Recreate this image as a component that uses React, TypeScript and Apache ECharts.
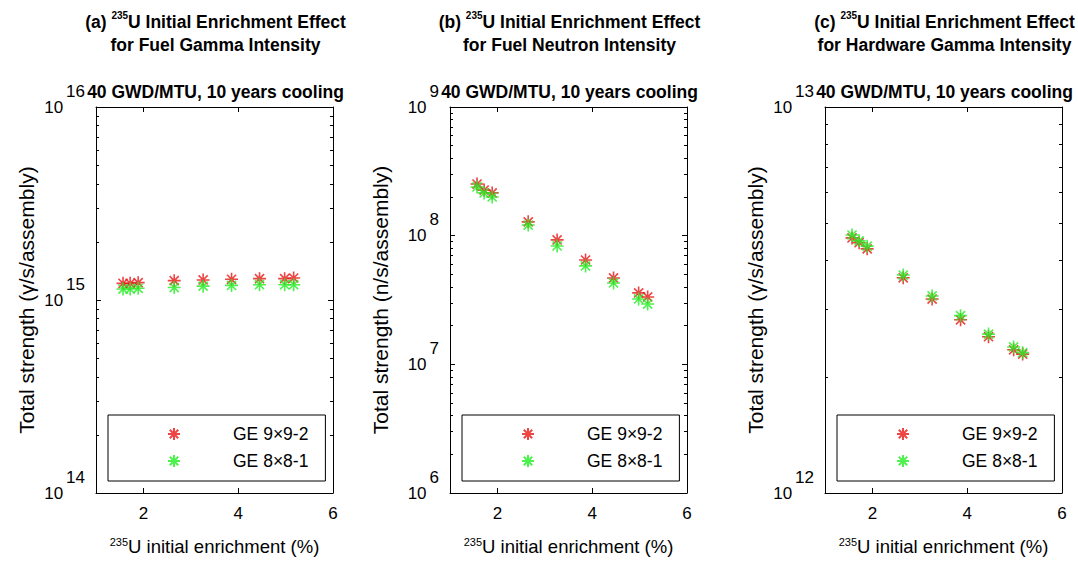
import React, { useEffect, useRef } from "react";
import * as echarts from "echarts";

// 235U initial enrichment (%) of the assemblies
const ENRICHMENT = [1.57, 1.72, 1.89, 2.65, 3.26, 3.86, 4.45, 4.98, 5.17];

// (a) fuel gamma intensity, photons/s/assembly
const FUEL_GAMMA_9X9 = [1.22e15, 1.22e15, 1.23e15, 1.26e15, 1.27e15, 1.28e15, 1.29e15, 1.29e15, 1.3e15];
const FUEL_GAMMA_8X8 = [1.14e15, 1.14e15, 1.15e15, 1.16e15, 1.18e15, 1.19e15, 1.2e15, 1.2e15, 1.2e15];

// (b) fuel neutron intensity, n/s/assembly
const FUEL_NEUTRON_9X9 = [2.52e8, 2.26e8, 2.15e8, 1.28e8, 9.27e7, 6.47e7, 4.69e7, 3.59e7, 3.34e7];
const FUEL_NEUTRON_8X8 = [2.39e8, 2.15e8, 2.0e8, 1.21e8, 8.32e7, 5.82e7, 4.29e7, 3.22e7, 2.94e7];

// (c) hardware gamma intensity, photons/s/assembly
const HARDWARE_GAMMA_9X9 = [4.58e12, 4.45e12, 4.29e12, 3.61e12, 3.18e12, 2.81e12, 2.54e12, 2.35e12, 2.29e12];
const HARDWARE_GAMMA_8X8 = [4.66e12, 4.5e12, 4.36e12, 3.67e12, 3.24e12, 2.88e12, 2.58e12, 2.39e12, 2.31e12];

const X_TICKS = [2, 4, 6];
const SERIES_NAMES = ["GE 9×9-2", "GE 8×8-1"];
const PANEL_LETTERS = ["(a)", "(b)", "(c)"];
const PANEL_SUBJECTS = [
  "for Fuel Gamma Intensity",
  "for Fuel Neutron Intensity",
  "for Hardware Gamma Intensity",
];
const SUBTITLE = "40 GWD/MTU, 10 years cooling";
const Y_NAMES = [
  "Total strength (γ/s/assembly)",
  "Total strength (n/s/assembly)",
  "Total strength (γ/s/assembly)",
];
// decade exponents spanned by each log axis
const Y_DECADES = [
  [14, 16],
  [6, 9],
  [12, 13],
];

const FONT = "'Liberation Sans', Arial, Helvetica, sans-serif";
const RED = "#e81515";
const GREEN = "#22ee22";
const ASTERISK = "path://M5 0L5 10M0 5L10 5M1.5 1.5L8.5 8.5M1.5 8.5L8.5 1.5";

const PANEL_LEFT = [96, 450, 825];
const PANEL_TOP = 107;
const PANEL_W = 237;
const PANEL_H = 386;

function minorLogTicks(lo: number, hi: number): number[] {
  const out: number[] = [];
  for (let d = lo; d < hi; d++) {
    for (let k = 2; k <= 9; k++) out.push(d + Math.log10(k));
  }
  return out;
}

function buildOption() {
  const panels = [
    [FUEL_GAMMA_9X9, FUEL_GAMMA_8X8],
    [FUEL_NEUTRON_9X9, FUEL_NEUTRON_8X8],
    [HARDWARE_GAMMA_9X9, HARDWARE_GAMMA_8X8],
  ];

  const grid: any[] = [];
  const xAxis: any[] = [];
  const yAxis: any[] = [];
  const series: any[] = [];
  const title: any[] = [];
  const legend: any[] = [];

  const axisLine = { show: true, onZero: false, lineStyle: { color: "#000", width: 1 } };

  panels.forEach((pair, i) => {
    const left = PANEL_LEFT[i];
    const cx = left + PANEL_W / 2;
    const [lo, hi] = Y_DECADES[i];

    grid.push({ left, top: PANEL_TOP, width: PANEL_W, height: PANEL_H, containLabel: false });

    // bottom and top x axes (box style)
    xAxis.push({
      gridIndex: i,
      type: "value",
      position: "bottom",
      min: 1,
      max: 6,
      axisLine,
      axisTick: { show: true, inside: true, length: 5, customValues: X_TICKS, lineStyle: { color: "#000" } },
      axisLabel: { customValues: X_TICKS, margin: 12, fontSize: 17, color: "#000", fontFamily: FONT },
      splitLine: { show: false },
      name: "{s|235}{n|U initial enrichment (%)}",
      nameLocation: "middle",
      nameGap: 43,
      nameTextStyle: {
        color: "#000",
        fontFamily: FONT,
        rich: {
          s: { fontSize: 11, verticalAlign: "top", lineHeight: 13, fontFamily: FONT, color: "#000" },
          n: { fontSize: 18.5, lineHeight: 21, fontFamily: FONT, color: "#000" },
        },
      },
    });
    xAxis.push({
      gridIndex: i,
      type: "value",
      position: "top",
      min: 1,
      max: 6,
      axisLine,
      axisTick: { show: true, inside: true, length: 5, customValues: X_TICKS, lineStyle: { color: "#000" } },
      axisLabel: { show: false },
      splitLine: { show: false },
    });

    const logAxisBase = {
      gridIndex: i,
      type: "log",
      logBase: 10,
      min: Math.pow(10, lo),
      max: Math.pow(10, hi),
      axisLine,
      axisTick: { show: true, inside: true, length: 5, lineStyle: { color: "#000" } },
      splitLine: { show: false },
    };
    yAxis.push({
      ...logAxisBase,
      position: "left",
      axisLabel: {
        margin: 11,
        color: "#000",
        fontFamily: FONT,
        formatter: (v: number) => `{b|10}{e|${Math.round(Math.log10(v))}}`,
        rich: {
          b: { fontSize: 17, fontFamily: FONT, color: "#000", verticalAlign: "middle" },
          e: { fontSize: 17, fontFamily: FONT, color: "#000", verticalAlign: "middle", padding: [0, 0, 32, 3] },
        },
      },
      name: Y_NAMES[i],
      nameLocation: "middle",
      nameGap: 59,
      nameTextStyle: { fontSize: 21, color: "#000", fontFamily: FONT },
    });
    yAxis.push({ ...logAxisBase, position: "right", axisLabel: { show: false } });

    // minor decade ticks drawn on log10-valued companion axes
    const minorBase = {
      gridIndex: i,
      type: "value",
      min: lo,
      max: hi,
      axisLine: { show: false },
      axisLabel: { show: false },
      splitLine: { show: false },
      axisTick: {
        show: true,
        inside: true,
        length: 3,
        customValues: minorLogTicks(lo, hi),
        lineStyle: { color: "#000" },
      },
    };
    yAxis.push({ ...minorBase, position: "left" });
    yAxis.push({ ...minorBase, position: "right" });

    pair.forEach((vals, s) => {
      const color = s === 0 ? RED : GREEN;
      series.push({
        type: "scatter",
        name: SERIES_NAMES[s],
        xAxisIndex: 2 * i,
        yAxisIndex: 4 * i,
        symbol: ASTERISK,
        symbolSize: 13,
        itemStyle: { color: "transparent", borderColor: color, borderWidth: 1.6 },
        data: ENRICHMENT.map((x, j) => [x, vals[j]]),
      });
    });

    title.push({
      left: cx - 4,
      top: 5,
      textAlign: "center",
      text: `{p|${PANEL_LETTERS[i]} }{s|235}{p|U Initial Enrichment Effect}\n{p|${PANEL_SUBJECTS[i]}}`,
      textStyle: {
        fontFamily: FONT,
        rich: {
          p: { fontSize: 17.5, fontWeight: "bold", lineHeight: 23, fontFamily: FONT, color: "#000" },
          s: { fontSize: 10, fontWeight: "bold", verticalAlign: "top", lineHeight: 14, fontFamily: FONT, color: "#000" },
        },
      },
    });
    title.push({
      left: cx - 4,
      top: 78,
      textAlign: "center",
      text: SUBTITLE,
      textStyle: { fontSize: 17.5, fontWeight: "bold", fontFamily: FONT, color: "#000" },
    });

    legend.push({
      orient: "vertical",
      left: left + 12,
      top: 415,
      data: SERIES_NAMES,
      selectedMode: false,
      itemWidth: 12,
      itemHeight: 12,
      itemGap: 9,
      padding: [10, 17, 11, 59],
      borderColor: "#000",
      borderWidth: 1,
      backgroundColor: "#fff",
      textStyle: { fontSize: 17.5, lineHeight: 18, color: "#000", fontFamily: FONT, padding: [0, 0, 0, 48] },
    });
  });

  return {
    animation: false,
    backgroundColor: "#fff",
    textStyle: { fontFamily: FONT },
    title,
    legend,
    grid,
    xAxis,
    yAxis,
    series,
  };
}

export default function App() {
  const ref = useRef<HTMLDivElement>(null);

  useEffect(() => {
    if (!ref.current) return;
    const chart = echarts.init(ref.current, undefined, { renderer: "svg" });
    chart.setOption(buildOption() as any);
    return () => chart.dispose();
  }, []);

  return (
    <div
      ref={ref}
      style={{ position: "fixed", left: 0, top: 0, width: 1078, height: 563, background: "#fff" }}
    />
  );
}
